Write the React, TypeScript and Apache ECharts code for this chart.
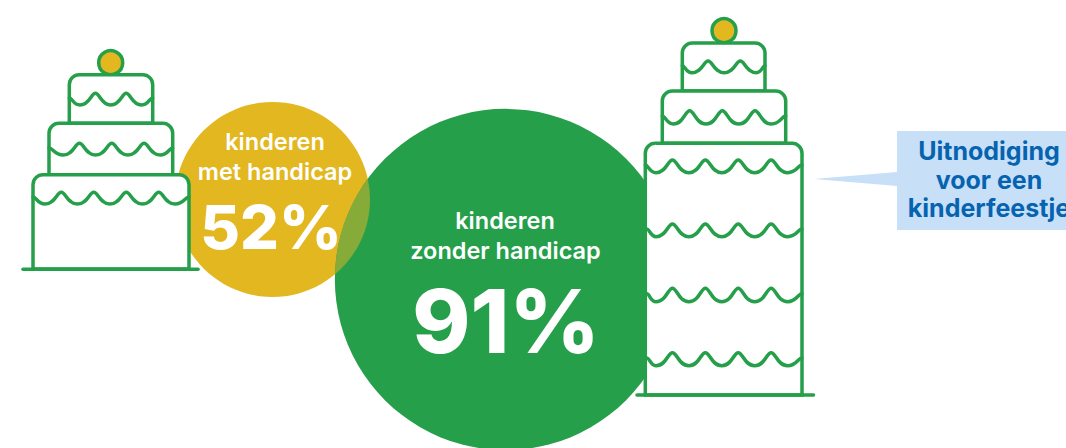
import React, { useEffect, useRef } from "react";
import * as echarts from "echarts";

const categories = ["met handicap", "zonder handicap"];
const shares = [52, 91];
const lead = "kinderen";
const calloutLines = ["Uitnodiging", "voor een", "kinderfeestje"];

const WIDTH = 1066;
const HEIGHT = 448;
const GREEN = "#259f4a";
const YELLOW = "#e3b720";
const OVERLAP = "#87ab38";
const FONT = "Inter, 'Noto Sans', sans-serif";
const STROKE = 3.5;
const DIAMETER_PER_POINT = 3.75;
const centreX = [272.5, 505.5];
const centreY = [199.5, 279.5];

function waveD(x0: number, x1: number, firstTrough: number, period: number, troughs: number, yPeak: number, yTrough: number) {
  const yEnd = yPeak + (yTrough - yPeak) * 0.4;
  const pts: number[][] = [[x0, yEnd]];
  for (let i = 0; i < troughs; i++) {
    const t = firstTrough + i * period;
    pts.push([t, yTrough]);
    if (i < troughs - 1) pts.push([t + period / 2, yPeak]);
  }
  pts.push([x1, yEnd]);
  let d = `M${pts[0][0]} ${pts[0][1]}`;
  for (let i = 1; i < pts.length; i++) {
    const [ax, ay] = pts[i - 1];
    const [bx, by] = pts[i];
    const dx = bx - ax;
    // wide, round troughs and tighter peaks
    const aIsTrough = ay > by;
    const ca = aIsTrough ? 0.62 : 0.28;
    const cb = aIsTrough ? 0.28 : 0.62;
    d += ` C${ax + dx * ca} ${ay} ${bx - dx * cb} ${by} ${bx} ${by}`;
  }
  return d;
}

const wavesLeft = [
  waveD(69.3, 152.7, 80, 30.8, 3, 93.3, 105),
  waveD(49, 172.7, 63.3, 32.3, 4, 143.3, 155),
  waveD(33, 189, 45, 32.5, 5, 192.3, 204),
].join(" ");
const wavesRight = [
  waveD(682.3, 765, 692, 32.2, 3, 61, 72.7),
  waveD(662.3, 785.7, 673.3, 32.7, 4, 110.7, 124),
  waveD(645.3, 802, 656, 32.9, 5, 160, 172.7),
  waveD(647, 802, 656, 32.9, 5, 224, 236.7),
  waveD(647, 802, 656, 32.9, 5, 288.3, 301.7),
  waveD(647, 802, 656, 32.9, 5, 352.7, 365.7),
].join(" ");
echarts.graphic.registerShape("wavesLeft", echarts.graphic.extendPath(wavesLeft, {}) as any);
echarts.graphic.registerShape("wavesRight", echarts.graphic.extendPath(wavesRight, {}) as any);

function tier(x0: number, x1: number, y0: number, y1: number, z: number, r: any = [10, 10, 0, 0]) {
  return {
    type: "rect",
    z,
    shape: { x: x0, y: y0, width: x1 - x0, height: y1 - y0, r },
    style: { fill: "#fff", stroke: GREEN, lineWidth: STROKE },
  };
}

function cake(
  tiers: number[][],
  base: number[],
  cherry: number[],
  waveName: string,
) {
  return [
    ...tiers.map((t, i) => tier(t[0], t[1], t[2], t[3], 10 + tiers.length - i)),
    {
      type: waveName,
      z: 15,
      style: { fill: "none", stroke: GREEN, lineWidth: STROKE, lineCap: "round" },
    },
    {
      type: "line",
      z: 15,
      shape: { x1: base[0], y1: base[2], x2: base[1], y2: base[2] },
      style: { stroke: GREEN, lineWidth: STROKE, lineCap: "round" },
    },
    {
      type: "circle",
      z: 9,
      shape: { cx: cherry[0], cy: cherry[1], r: 12 },
      style: { fill: YELLOW, stroke: GREEN, lineWidth: STROKE },
    },
  ];
}

function label(text: string, x: number, y: number, size: number, weight: number, fill = "#fff", z = 20) {
  return {
    type: "text",
    z,
    style: {
      text,
      x,
      y,
      fill,
      fontFamily: FONT,
      fontSize: size,
      fontWeight: weight,
      align: "center",
      verticalAlign: "middle",
    },
  };
}

export default function App() {
  const ref = useRef<HTMLDivElement>(null);
  useEffect(() => {
    document.body.style.margin = "0";
    const chart = echarts.init(ref.current!, null, { renderer: "svg" });
    const r0 = (shares[0] * DIAMETER_PER_POINT) / 2;
    const r1 = (shares[1] * DIAMETER_PER_POINT) / 2;
    chart.setOption({
      animation: false,
      backgroundColor: "#fff",
      grid: { left: 0, right: 0, top: 0, bottom: 0 },
      xAxis: { type: "value", min: 0, max: WIDTH, show: false },
      yAxis: { type: "value", min: 0, max: HEIGHT, inverse: true, show: false },
      series: [
        {
          type: "scatter",
          z: 2,
          silent: true,
          symbol: "circle",
          symbolSize: (d: number[]) => d[2] * DIAMETER_PER_POINT,
          data: shares.map((v, i) => ({
            name: categories[i],
            value: [centreX[i], centreY[i], v],
            itemStyle: { color: i === 0 ? YELLOW : GREEN, opacity: 1 },
          })),
        },
        {
          type: "custom",
          z: 3,
          silent: true,
          coordinateSystem: "cartesian2d",
          data: [[centreX[0], centreY[0], centreX[1], centreY[1]]],
          renderItem: (_p: any, api: any) => {
            const a = api.coord([api.value(0), api.value(1)]);
            const b = api.coord([api.value(2), api.value(3)]);
            const dx = b[0] - a[0];
            const dy = b[1] - a[1];
            const d = Math.hypot(dx, dy);
            const along = (d * d + r0 * r0 - r1 * r1) / (2 * d);
            const h = Math.sqrt(r0 * r0 - along * along);
            const mx = a[0] + (dx * along) / d;
            const my = a[1] + (dy * along) / d;
            const p1 = [mx + (dy * h) / d, my - (dx * h) / d];
            const p2 = [mx - (dy * h) / d, my + (dx * h) / d];
            const pathData = `M${p1[0]} ${p1[1]} A${r0} ${r0} 0 0 1 ${p2[0]} ${p2[1]} A${r1} ${r1} 0 0 1 ${p1[0]} ${p1[1]} Z`;
            return { type: "path", shape: { pathData }, style: { fill: OVERLAP } };
          },
        },
      ],
      graphic: {
        elements: [
          ...cake(
            [
              [33, 189, 174.7, 269],
              [49, 172.7, 123.3, 174.7],
              [69.3, 152.7, 74.7, 123.3],
            ],
            [23, 198, 269.3],
            [110.7, 62.7],
            "wavesLeft",
          ),
          ...cake(
            [
              [645.3, 802, 143.3, 395],
              [662.3, 785.7, 91, 143.3],
              [682.3, 765, 43, 91],
            ],
            [637, 813.5, 395],
            [724, 30.7],
            "wavesRight",
          ),
          label(lead, 275, 141.5, 23.5, 600),
          label(categories[0], 275, 171, 23.5, 600),
          label(`${shares[0]}%`, 271, 227, 61, 800),
          label(lead, 505, 220, 23.5, 600),
          label(categories[1], 505.5, 250, 23.5, 600),
          label(`${shares[1]}%`, 506, 321, 88, 800),
          {
            type: "polygon",
            z: 5,
            shape: { points: [[814, 179], [897, 172], [897, 186]] },
            style: { fill: "#c7dff7" },
          },
          {
            type: "rect",
            z: 5,
            shape: { x: 897, y: 131, width: WIDTH - 897, height: 99 },
            style: { fill: "#c7dff7" },
          },
          label(calloutLines[0], 989, 151, 25, 700, "#0563b0"),
          label(calloutLines[1], 989, 180, 25, 700, "#0563b0"),
          label(calloutLines[2], 989, 208, 25, 700, "#0563b0"),
        ],
      },
    });
    return () => chart.dispose();
  }, []);
  return <div ref={ref} style={{ width: WIDTH, height: HEIGHT }} />;
}
